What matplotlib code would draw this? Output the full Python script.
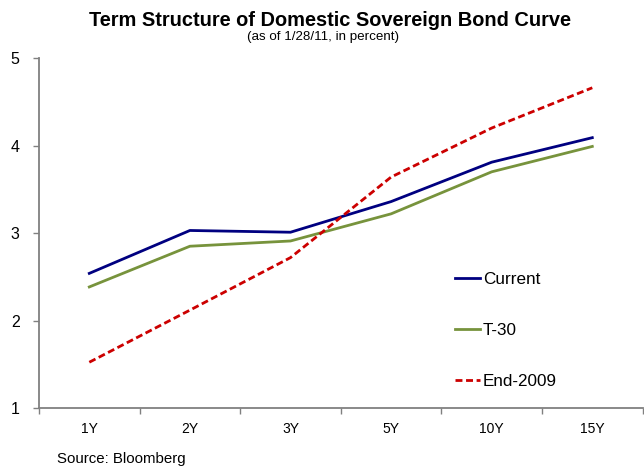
import matplotlib
matplotlib.use("Agg")
import matplotlib.pyplot as plt
import numpy as np

plt.rcParams['font.family'] = ['Liberation Sans', 'DejaVu Sans']

tenors = ["1Y", "2Y", "3Y", "5Y", "10Y", "15Y"]
current = [2.54, 3.03, 3.01, 3.36, 3.81, 4.09]
t30 = [2.385, 2.85, 2.91, 3.22, 3.70, 3.99]
end2009 = [1.525, 2.12, 2.72, 3.64, 4.20, 4.66]

fig = plt.figure(figsize=(6.44, 4.66), dpi=100)
ax = fig.add_axes([39/644, 1 - 408.2/466, (642.6 - 39)/644, (408.2 - 58)/466])

x = np.arange(len(tenors))
ax.plot(x, current, color="#000080", lw=2.0, label="Current")
ax.plot(x, t30, color="#77933C", lw=2.0, label="T-30")
ax.plot(x, end2009, color="#CC0000", lw=2.0, dashes=(2.5, 1.3), label="End-2009")

ax.set_xlim(-0.5, len(tenors) - 0.5)
ax.set_ylim(1, 5)
ax.set_yticks([1, 2, 3, 4, 5])
ax.set_xticks(x)
ax.set_xticklabels(tenors, fontsize=10)
ax.set_xticks(np.arange(-0.5, len(tenors), 1.0), minor=True)
ax.tick_params(axis="x", which="major", length=0, pad=10)
ax.tick_params(axis="x", which="minor", length=4, width=1, color="#808080", direction="out")
ax.tick_params(axis="y", length=4, width=1, color="#808080", labelsize=11.5, pad=10)

for s in ["top", "right"]:
    ax.spines[s].set_visible(False)
for s in ["left", "bottom"]:
    ax.spines[s].set_color("#808080")
    ax.spines[s].set_linewidth(1.3)

leg = ax.legend(loc="upper left", bbox_to_anchor=((455 - 39) / 603.6, (408.2 - 272) / 350.2),
                frameon=False, fontsize=12.3, handlelength=1.46, handletextpad=0.18,
                labelspacing=2.12, borderaxespad=0, borderpad=0)

fig.text(330/644, 1 - 20/466, "Term Structure of Domestic Sovereign Bond Curve",
         ha="center", va="center", fontsize=14.4, fontweight="bold")
fig.text(323/644, 1 - 37/466, "(as of 1/28/11, in percent)",
         ha="center", va="center", fontsize=9.6)
fig.text(57/644, 1 - 459/466, "Source: Bloomberg", ha="left", va="center", fontsize=10.8)

fig.savefig("out.png", dpi=100)
